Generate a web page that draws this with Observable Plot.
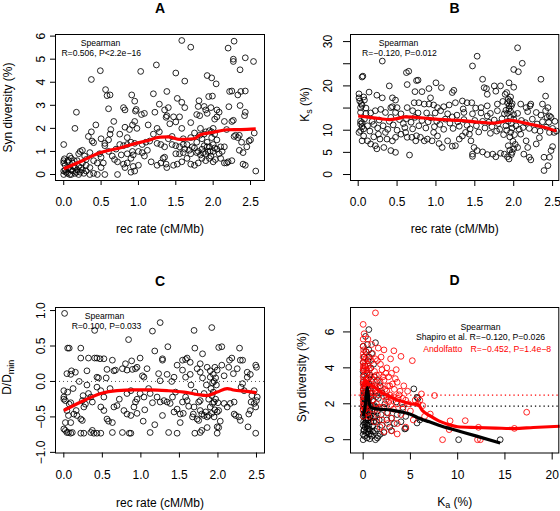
<!DOCTYPE html>
<html><head><meta charset="utf-8">
<script src="https://cdn.jsdelivr.net/npm/d3@7"></script>
<script src="https://cdn.jsdelivr.net/npm/@observablehq/plot@0.6"></script>
<style>
body{margin:0;background:#fff;}
#fig{position:relative;width:560px;height:511px;background:#fff;overflow:hidden;}
.panel{position:absolute;}
</style></head><body><div id="fig"></div>
<script>
// ---------- Panel A: rec rate vs Syn diversity ----------
const aPoints = [
[1.58,5.81],[1.70,5.52],[2.28,5.78],[2.20,5.48],[2.27,5.0],[2.27,4.9],[2.43,5.06],[2.54,4.9],[2.36,4.54],[1.24,4.75],[0.49,4.5],[1.03,4.47],[1.5,4.4],[0.37,4.12],[1.92,4.29],[1.98,4.19],[2.04,3.93],[1.62,4.05],
[0.56,3.68],[0.58,3.42],[0.62,3.45],[0.91,3.45],[1.2,3.5],[1.38,3.6],[1.52,3.3],[1.58,3.13],[1.62,2.9],[0.95,3.18],[1.81,3.2],[1.94,3.38],[1.99,3.4],[2.22,3.6],[2.25,3.62],[2.37,3.6],[2.43,3.62],[2.33,3.45],[2.36,2.99],[2.21,2.94],
[0.6,2.85],[0.8,2.9],[0.82,2.8],[0.96,2.75],[0.97,2.82],[1.04,2.6],[1.08,2.65],[1.22,2.7],[1.35,2.8],[1.38,2.55],[1.37,2.48],[1.4,2.9],[1.47,2.5],[1.55,2.5],[1.42,2.2],[1.5,2.28],[1.58,2.0],[1.28,3.05],[1.8,2.95],[1.88,2.95],[1.9,2.8],[1.92,2.65],[1.97,2.9],[2.05,2.8],[2.08,2.7],[2.05,2.5],[2.02,2.4],[1.82,2.55],[1.78,2.6],[1.7,2.25],[1.83,2.0],[2.15,2.3],[2.18,1.95],[2.42,2.55],[2.43,2.7],[2.27,2.35],
[0.17,2.7],[0.15,2.0],[0.43,2.15],[0.33,1.65],[0.37,1.85],[0.38,1.45],[0.4,1.38],[0.5,1.55],[0.55,1.35],[0.6,1.5],[0.62,1.75],[0.63,1.95],[0.67,2.3],[0.75,1.75],[0.82,2.05],[0.85,1.6],[0.88,1.95],[0.92,2.15],[0.95,2.3],[0.98,2.0],[1.13,2.15],[1.2,1.75],[1.25,2.0],[1.28,1.85],[1.1,1.4],[1.0,1.0],[1.05,0.95],[1.17,0.55],[1.25,0.4],[1.33,0.7],[1.37,0.45],[1.38,0.3],[1.47,0.4],[1.52,0.45],[1.58,0.55],[1.65,0.7],[1.7,0.45],[1.75,0.4],[1.8,0.5],[1.85,0.7],
[0.93,0.35],[0.9,0.1],[0.95,0.15],[1.0,0.4],[0.85,0.5],[0.8,0.45],[0.82,0.3],[0.72,0.0],[0.55,0.0],[0.72,0.55],[0.68,0.65],[0.77,0.85],[0.85,0.9],[0.9,0.7],[0.92,1.0],[0.93,0.85],[0.5,0.3],[0.53,0.5],[0.48,0.9],[0.45,0.0],[0.4,0.05],[0.35,0.0],[0.3,0.15],[0.3,0.4],[0.25,0.5],[0.25,0.2],[0.22,0.1],[0.2,0.0],[0.15,0.05],[0.12,0.15],[0.1,0.0],[0.05,0.05],[0.02,0.2],[0.0,0.0],[0.0,0.6],[0.0,0.5],[0.01,0.68],[0.0,1.3],[0.02,0.4],[0.05,0.55],[0.08,0.8],[0.1,0.2],[0.12,0.5],[0.15,0.3],[0.18,0.2],[0.2,0.9],[0.22,1.0],[0.25,1.05],[0.28,0.8],[0.18,0.6],[0.2,0.35],[0.35,0.95],[0.4,0.6],[0.45,0.5],[0.5,0.75],[0.55,1.25],[0.6,1.0],[0.65,0.8],[0.7,1.1],[0.75,1.3],[0.8,1.25],[0.85,1.3],[0.9,1.4],[0.95,1.35],[1.05,1.3],[1.15,1.45],[1.25,1.35],[1.3,1.3],[1.35,1.2],[1.4,1.55],[1.45,1.65],[1.5,1.25],[1.55,1.2],[1.6,1.3],[1.6,1.55],[1.65,1.3],[1.68,1.05],[1.7,0.9],[1.72,1.2],[1.75,1.15],[1.78,1.4],[1.8,1.0],[1.82,1.7],[1.85,1.55],[1.85,1.1],[1.88,1.25],[1.9,0.9],[1.92,1.4],[1.93,1.0],[1.95,1.9],[1.95,1.2],[1.97,0.8],[1.98,1.6],[2.0,1.0],[2.0,1.3],[2.02,1.75],[2.03,0.65],[2.05,1.1],[2.05,1.5],[2.08,0.9],[2.1,1.2],[2.1,0.7],[2.12,1.0],[2.15,1.2],[2.15,0.5],[2.2,0.55],[2.18,0.5],[2.25,0.6],[2.28,1.65],[2.3,1.7],[2.33,1.6],[2.35,1.7],[2.38,1.4],[2.4,0.95],[2.4,0.45],[2.43,0.4],[2.45,1.2],[2.48,1.45],[2.5,1.5],[2.55,1.8],[2.57,0.15],[2.35,1.05],[2.25,2.3],[1.9,0.6],[1.95,0.7],[2.0,0.55],[1.6,0.95],[1.55,0.9],[1.45,1.3],[1.5,0.9],[1.35,0.75],[1.3,0.5],[1.12,1.05],[1.08,0.8],
[0.03,0.1],[0.07,0.3],[0.08,0.0],[0.13,0.35],[0.17,0.1],[0.23,0.3],[0.27,0.05],[0.06,0.62],[0.1,0.7],[0.14,0.6],[0.3,0.65],[0.35,0.3],[0.05,0.25],[0.0,0.15],
[1.88,1.75],[1.9,1.85],[1.98,1.85],[2.0,2.0],[1.92,1.2],[1.96,1.0],[2.02,1.15],[1.75,1.8],[1.78,0.95],[1.83,0.85],[1.87,0.95],[1.7,1.6],[1.62,1.1]
];
const aCurve = [[0,0.25],[0.25,0.6],[0.49,0.95],[0.75,1.15],[0.94,1.33],[1.1,1.45],[1.29,1.62],[1.4,1.63],[1.56,1.52],[1.74,1.55],[1.83,1.72],[2.0,1.83],[2.19,1.94],[2.37,1.95],[2.57,1.98]];
const aXTicks = [0,0.5,1,1.5,2,2.5];
const aYTicks = [0,1,2,3,4,5,6];

// ---------- Panel B: rec rate vs Ks ----------
const bPoints = [
[0.31,25.6],[2.05,28.6],[1.53,26.7],[1.47,24.5],[2.11,25.1],[2.0,23.7],[2.06,23.2],[0.65,23.3],[0.62,23.0],[0.05,22.0],[0.06,22.2],[1.6,21.5],[2.35,21.5],[0.75,21.2],[0.77,21.3],[1.0,20.7],[1.94,20.7],[1.75,20.0],[1.83,20.0],[0.63,20.3],[0.4,20.0],[0.91,19.4],[1.07,19.6],[1.23,19.0],[1.62,19.6],[1.65,19.4],[2.0,19.7],[0.73,18.7],[0.82,18.7],[1.21,18.5],[1.77,18.8],[0.14,18.6],[0.24,17.9],[0.01,18.2],[1.66,18.1],[1.89,18.1],[2.41,17.7],[0.31,17.3],[0.44,17.3],[0.48,16.8],[0.93,17.3],
[0.5,15.1],[0.42,15.1],[0.44,15.3],[0.72,16.2],[0.78,16.2],[0.85,15.9],[0.91,15.9],[0.97,15.7],[1.02,15.1],[1.1,15.3],[1.17,15.7],[1.25,16.2],[1.34,16.6],[1.4,16.2],[1.46,16.2],[1.51,15.0],[1.35,14.8],[1.58,15.1],[1.66,15.5],[1.79,15.9],[1.86,16.5],[1.92,16.2],[1.95,16.6],[1.94,15.5],[1.97,15.5],[1.93,17.0],[2.22,15.9],[2.21,15.5],[2.09,15.9],[2.16,15.1],[2.37,15.9],[2.44,15.1],[2.41,14.4],[2.46,13.2],[2.48,12.9],[2.43,12.9],[2.35,13.4],[2.29,14.0],[2.18,14.2],[2.05,13.8],[2.0,13.5],[1.96,12.9],[1.88,13.7],[1.79,14.4],[1.7,13.8],[1.66,13.2],[1.58,13.9],[1.47,13.7],[1.36,14.0],[1.27,13.4],[1.21,13.0],[1.15,13.7],[1.06,14.4],[0.99,13.9],[0.88,13.9],[0.77,13.9],[0.7,14.4],[0.63,15.1],[0.55,13.7],[0.48,14.0],[0.42,12.9],[0.35,14.0],[0.29,14.7],[0.22,14.4],[0.16,13.9],[0.1,13.8],[0.03,15.1],[0.02,16.6],[0.01,17.3],[0.03,14.0],[0.04,16.0],[0.08,16.8],[0.07,17.5],[0.05,15.6],[0.1,15.0],
[0.03,12.0],[0.05,11.7],[0.03,11.4],[0.05,10.8],[0.03,9.9],[0.01,9.5],[0.07,8.7],[0.07,10.3],[0.05,7.6],[0.12,7.6],[0.16,6.9],[0.22,6.5],[0.24,5.8],[0.28,8.0],[0.33,6.1],[0.2,8.5],[0.26,9.1],[0.35,9.5],[0.37,8.0],[0.42,5.4],[0.48,5.0],[0.44,7.6],[0.48,8.4],[0.55,9.1],[0.61,9.5],[0.63,8.4],[0.66,4.4],[0.69,8.4],[0.74,7.6],[0.75,8.75],[0.8,8.4],[0.85,7.6],[0.89,8.0],[0.95,7.6],[0.97,9.5],[1.02,8.7],[1.04,7.0],[1.08,6.1],[1.15,7.6],[1.21,6.4],[1.25,6.5],[1.3,8.0],[1.34,8.7],[1.38,9.5],[1.43,9.1],[1.45,7.6],[1.49,6.1],[1.47,4.6],[1.47,4.1],[1.53,5.4],[1.6,5.1],[1.66,4.5],[1.73,4.6],[1.77,4.0],[1.83,4.8],[1.88,4.6],[1.92,4.0],[1.94,3.5],[1.98,5.0],[2.0,5.8],[2.05,6.1],[2.09,9.1],[2.16,7.6],[2.18,6.1],[2.13,4.6],[2.2,3.9],[2.22,3.3],[2.29,6.9],[2.33,8.3],[2.39,3.9],[2.39,0.9],[2.44,2.0],[2.46,3.9],[2.48,5.4],[2.5,6.3],[2.52,9.5],[2.46,9.5],[2.55,9.8],
[0.08,12.5],[0.12,11.0],[0.15,9.8],[0.18,12.0],[0.2,11.3],[0.25,10.5],[0.27,12.3],[0.32,11.0],[0.38,10.2],[0.4,12.0],[0.45,11.2],[0.5,10.0],[0.53,12.4],[0.58,11.5],[0.6,10.6],[0.62,12.6],[0.68,11.8],[0.7,10.3],[0.73,12.9],[0.78,11.0],[0.82,12.2],[0.87,10.5],[0.9,11.9],[0.93,12.8],[0.98,10.8],[1.01,12.0],[1.05,11.3],[1.1,10.2],[1.12,12.5],[1.18,11.6],[1.22,10.4],[1.28,11.9],[1.3,10.9],[1.36,12.4],[1.4,11.1],[1.44,10.3],[1.5,12.2],[1.52,11.0],[1.55,9.6],[1.6,12.0],[1.63,10.5],[1.68,11.8],[1.7,9.3],[1.72,10.8],[1.75,12.3],[1.78,9.8],[1.8,11.5],[1.82,10.2],[1.85,12.6],[1.87,9.0],[1.9,11.0],[1.91,10.0],[1.93,12.0],[1.95,8.5],[1.96,9.5],[1.97,11.5],[1.98,10.5],[1.99,7.5],[2.0,12.5],[2.01,9.0],[2.02,6.8],[2.03,11.0],[2.07,10.2],[2.1,12.2],[2.12,10.6],[2.15,11.7],[2.2,10.4],[2.24,12.5],[2.27,10.0],[2.3,11.4],[2.34,9.8],[2.37,11.9],[2.42,10.7],[2.45,11.8],[2.5,10.4],[2.53,12.0],
[1.9,14.5],[1.92,13.8],[1.94,14.8],[1.96,14.2],[1.98,16.0],[1.96,17.5],[1.91,18.5],[1.95,5.5],[1.97,4.5],[1.93,6.5]
];
const bCurve = [[0,13.2],[0.2,12.8],[0.4,12.4],[0.5,12.6],[0.6,13.0],[0.75,12.9],[1.0,12.5],[1.3,12.2],[1.5,11.9],[1.75,11.6],[1.95,12.2],[2.1,11.8],[2.2,11.4],[2.4,10.6],[2.55,9.8]];
const bXTicks = [0,0.5,1,1.5,2,2.5];
const bYTicks = [0,5,10,15,20,25,30];
const bYLabels = [0,5,10,20,30];

// ---------- Panel C: rec rate vs D/Dmin ----------
const cPoints = [
[0.01,0.96],[0.40,0.72],[0.84,0.59],[1.15,0.71],[1.25,0.83],[1.69,0.72],[1.92,0.76],[0.05,0.47],[0.07,0.47],[0.22,0.47],[0.22,0.33],[0.32,0.33],[0.40,0.33],[0.43,0.33],[0.47,0.32],[0.52,0.32],[1.18,0.43],[1.35,0.49],[1.28,0.32],[1.28,0.30],[1.7,0.47],[2.01,0.48],[2.05,0.49],[2.28,0.47],[0.63,0.3],[0.88,0.29],[0.99,0.33],[1.54,0.3],[1.58,0.31],[1.6,0.33],[1.64,0.27],[1.77,0.25],[2.15,0.3],[2.18,0.33],[2.29,0.3],[2.32,0.3],[2.49,0.23],[2.5,0.2],[1.8,0.39],[2.38,0.13],[2.42,0.1],
[0.04,0.11],[0.09,0.1],[0.1,0.15],[0.15,0.13],[0.3,0.15],[0.43,0.06],[0.45,0.05],[0.56,0.17],[0.65,0.15],[0.67,0.16],[0.76,0.18],[0.8,0.25],[0.82,0.16],[0.89,0.17],[0.93,0.18],[0.95,0.2],[1.08,0.18],[1.02,0.08],[1.04,0.06],[1.23,0.11],[1.25,0.01],[1.34,0.1],[1.43,0.06],[1.47,0.23],[1.54,0.16],[1.58,0.06],[1.64,0.1],[1.73,0.18],[1.77,0.13],[1.86,0.2],[1.9,0.06],[1.94,0.1],[1.99,0.16],[2.05,0.23],[2.08,0.08],[2.14,0.2],[2.2,0.11],[2.25,0.18],[2.38,0.06],[1.95,0.0],[1.97,0.05],[1.93,-0.02],
[0.0,-0.22],[0.0,-0.13],[0.0,-0.25],[0.02,-0.27],[0.07,-0.32],[0.09,-0.3],[0.04,-0.41],[0.06,-0.48],[0.09,-0.58],[0.02,-0.58],[0.02,-0.69],[0.04,-0.72],[0.06,-0.72],[0.09,-0.73],[0.11,-0.72],[0.0,-0.67],[0.22,-0.73],[0.26,-0.73],[0.35,-0.72],[0.39,-0.73],[0.43,-0.73],[0.48,-0.73],[0.37,-0.69],[0.63,-0.72],[0.76,-0.72],[0.85,-0.73],[0.87,-0.73],[1.12,-0.72],[1.36,-0.72],[1.47,-0.73],[1.7,-0.73],[1.77,-0.72],[1.79,-0.69],[1.86,-0.65],[1.99,-0.73],[1.99,-0.64],[2.01,-0.65],[2.49,-0.73],[2.39,-0.64],
[0.16,-0.41],[0.13,-0.46],[0.17,-0.48],[0.22,-0.53],[0.24,-0.55],[0.26,-0.36],[0.28,-0.32],[0.24,-0.27],[0.32,-0.17],[0.35,-0.22],[0.37,-0.29],[0.43,-0.08],[0.48,-0.13],[0.52,-0.22],[0.48,-0.36],[0.52,-0.41],[0.56,-0.53],[0.58,-0.56],[0.63,-0.58],[0.65,-0.36],[0.69,-0.34],[0.78,-0.41],[0.82,-0.46],[0.87,-0.48],[0.91,-0.36],[0.93,-0.29],[0.95,-0.25],[0.82,-0.17],[0.87,-0.13],[0.99,-0.17],[1.04,-0.22],[1.1,-0.1],[1.12,-0.17],[1.03,-0.56],[1.18,-0.61],[1.28,-0.48],[1.21,-0.22],[1.25,-0.29],[1.3,-0.27],[1.34,-0.29],[1.38,-0.31],[1.41,-0.22],[1.43,-0.43],[1.47,-0.39],[1.51,-0.46],[1.51,-0.58],[1.54,-0.29],[1.58,-0.22],[1.6,-0.27],[1.67,-0.5],[1.68,-0.46],[1.69,-0.36],[1.73,-0.53],[1.75,-0.55],[1.77,-0.41],[1.79,-0.46],[1.82,-0.48],[1.84,-0.43],[1.86,-0.5],[1.88,-0.48],[1.75,-0.29],[1.77,-0.27],[1.82,-0.17],[1.9,-0.36],[1.93,-0.31],[1.95,-0.29],[1.97,-0.25],[1.99,-0.43],[2.01,-0.41],[2.03,-0.56],[2.08,-0.31],[2.12,-0.36],[2.16,-0.31],[2.21,-0.29],[2.27,-0.5],[2.29,-0.55],[2.21,-0.46],[2.23,-0.48],[2.4,-0.46],[2.42,-0.41],[2.47,-0.31],[2.49,-0.36],[2.5,-0.27],[2.51,-0.22],[2.44,-0.2],[2.47,-0.13],[2.43,-0.29],[2.34,-0.13],[2.3,-0.08],[2.32,-0.03],
[1.91,-0.1],[1.92,-0.2],[1.94,-0.15],[1.96,-0.4],[1.98,-0.05],[1.95,-0.5],[1.92,-0.45],[1.9,0.15],[1.96,0.2],[2.0,-0.3],[1.88,-0.25],[1.85,-0.05],[1.8,0.05],[1.7,-0.15],[1.65,-0.05],[1.62,-0.35],[1.55,-0.45],[1.45,-0.15],[1.4,0.0],[1.15,-0.3],[1.05,-0.4],[0.95,-0.45],[0.72,-0.25],[0.6,-0.1],[0.55,0.05],[0.3,-0.05],[0.2,0.0],[0.12,-0.1],[0.25,-0.2],[0.05,-0.15]
];
const cCurve = [[0,-0.41],[0.22,-0.29],[0.48,-0.17],[0.69,-0.13],[0.91,-0.12],[1.12,-0.12],[1.34,-0.13],[1.56,-0.15],[1.77,-0.19],[1.85,-0.2],[1.99,-0.15],[2.12,-0.1],[2.2,-0.12],[2.38,-0.14],[2.5,-0.16]];
const cXTicks = [0,0.5,1,1.5,2,2.5];
const cYTicks = [-1,-0.5,0,0.5,1];
const cRefLine = [0];

// ---------- Panel D: Ka vs Syn diversity, two datasets ----------
const dShapiro = [
[0.6,6.13],[0.25,5.75],[0.0,5.2],[1.3,5.4],[0.6,5.0],[0.9,4.8],[0.3,4.9],[0.1,4.6],[0.5,4.4],[1.1,4.2],[0.8,4.0],[0.2,4.1],[0.0,3.8],[0.4,3.7],[0.7,3.6],[1.2,3.5],[1.5,3.3],[0.3,3.4],[0.0,3.2],[0.6,3.1],[0.9,3.0],[1.8,3.0],[0.2,2.9],[0.5,2.8],[0.1,2.6],[0.8,2.6],[1.3,2.7],[2.0,2.6],[0.35,2.5],[0.0,2.4],[0.6,2.3],[1.0,2.2],[1.6,2.3],[0.2,2.2],[0.45,2.0],[0.05,2.0],[0.7,1.9],[1.2,1.9],[2.3,2.0],[0.3,1.8],[0.0,1.7],[0.55,1.6],[0.9,1.6],[1.5,1.6],[0.15,1.5],[0.4,1.4],[0.0,1.3],[0.7,1.3],[1.1,1.3],[1.9,1.4],[0.25,1.2],[0.5,1.1],[0.05,1.0],[0.8,1.0],[1.4,1.0],[2.5,1.1],[0.35,0.9],[0.0,0.8],[0.6,0.8],[1.0,0.75],[0.2,0.7],[0.45,0.6],[0.05,0.5],[0.75,0.5],[1.2,0.5],[0.3,0.4],[0.0,0.3],[0.6,0.3],[0.9,0.2],[0.15,0.2],[0.4,0.1],[0.0,0.0],[0.7,0.05],[1.3,0.0],[1.6,0.2],[1.8,0.3],[1.5,0.1],
[2.2,1.8],[2.6,1.5],[3.0,1.2],[3.3,0.9],[2.8,0.7],[3.6,1.4],[4.0,1.0],[4.2,1.8],[4.4,0.6],[4.5,1.3],[5.36,2.83],[5.7,2.36],[5.8,2.3],[4.5,0.63],[5.7,0.93],[6.0,1.1],[10.1,0.0],[14.5,0.0],[3.5,2.1],[2.5,2.4],[3.0,0.5],[2.0,0.8],[2.2,0.4],[1.7,1.1],[1.2,1.6],[0.85,2.4],[0.55,3.4],[0.65,4.6],[0.45,5.3],[0.15,3.0],[0.05,3.6],[0.02,4.3],[0.02,2.8],[0.3,2.2],[0.5,1.2],[0.65,0.6],[0.25,0.95],[0.1,0.55],[0.85,1.2],[1.0,1.9],[1.4,2.4],
[0.1,1.9],[0.2,1.6],[0.3,1.1],[0.4,0.8],[0.5,0.45],[0.15,0.9],[0.35,1.55],[0.45,1.75],[0.55,2.15],[0.1,2.3],[0.25,2.6],[0.4,3.1],[0.05,1.4],[0.7,1.6],[0.8,0.3],[1.0,0.45],[1.1,1.0],[1.25,1.25],[1.35,1.8],[1.45,0.6]
];
const dAndolfatto = [
[1.3,7.06],[0.0,6.42],[0.1,5.9],[0.5,5.6],[0.0,5.6],[0.9,5.3],[0.0,5.2],[1.6,5.1],[2.2,5.0],[3.25,4.95],[0.3,4.9],[1.0,4.8],[0.0,4.6],[2.9,4.5],[4.0,4.64],[5.2,4.4],[0.6,4.5],[1.5,4.4],[0.0,4.3],[1.83,4.2],[0.2,4.1],[0.8,4.0],[2.5,4.0],[3.5,3.9],[2.0,3.9],[0.0,3.9],[1.2,3.8],[0.4,3.7],[3.0,3.7],[2.7,3.5],[1.7,3.6],[0.0,3.5],[0.9,3.4],[2.2,3.3],[3.6,3.2],[0.3,3.3],[1.4,3.2],[0.0,3.1],[2.8,3.0],[4.3,3.0],[0.6,3.0],[1.9,2.9],[0.1,2.8],[3.3,2.8],[1.1,2.8],[2.5,2.7],[4.7,2.7],[0.0,2.6],[0.5,2.6],[3.8,2.5],[1.6,2.5],[6.17,2.55],[7.55,2.46],[2.2,2.4],[0.2,2.4],[3.0,2.3],[4.2,2.3],[5.5,2.2],[1.0,2.2],[0.0,2.2],[6.0,2.2],[2.7,2.1],[1.4,2.0],[0.4,2.0],[3.6,2.0],[4.8,2.0],[0.0,1.9],[6.3,1.9],[2.0,1.8],[1.0,1.7],[3.2,1.7],[0.2,1.7],[5.0,1.6],[0.0,1.6],[2.5,1.5],[1.5,1.4],[4.0,1.4],[7.1,1.43],[0.6,1.3],[6.5,1.3],[3.0,1.2],[2.0,1.1],[5.3,1.1],[1.2,1.0],[3.6,0.9],[2.6,0.9],[4.5,0.7],[1.8,0.7],[3.0,0.5],[3.6,0.32],[2.2,0.45],[9.2,1.05],[10.8,1.06],[12.2,0.69],[8.4,0.0],[12.1,0.0],[12.4,0.0],[16.0,0.63],[17.3,1.53],[9.1,0.56],
[0.05,5.0],[0.05,4.0],[0.05,3.0],[0.08,2.4],[0.1,1.8],[0.15,3.6],[0.15,4.4],[0.3,2.9],[0.35,3.9],[0.7,3.5],[0.7,2.4],[0.8,1.9],[1.1,3.3],[1.3,2.6],[1.8,3.2],[2.4,2.2],[2.6,3.0],[3.2,2.4],[3.4,3.4],[3.9,2.7],[4.5,2.2],[5.8,2.0],[1.3,4.5],[1.9,4.6],[2.4,3.7],[0.5,1.5],[1.7,1.8],[2.9,1.9],[4.2,1.7],
[0.02,4.8],[0.02,4.1],[0.02,3.3],[0.02,2.8],[0.05,2.1],[0.05,1.3],[0.1,3.9],[0.2,3.1],[0.25,4.5],[0.45,3.4],[0.5,4.1],[0.55,2.2],[0.65,3.9],[0.75,2.9],[0.85,4.4],[0.95,2.6],[1.2,3.0],[1.4,3.6],[1.6,2.9],[2.1,3.5],[2.3,2.8],[2.8,2.5],[3.1,3.1],[3.7,2.3],[4.1,2.0]
];
const dShapiroCurve = [[0,1.3],[0.2,1.8],[0.35,2.6],[0.45,2.9],[0.6,2.2],[0.8,1.8],[1.5,1.72],[3,1.65],[4,1.55],[5,1.42],[6.1,1.15],[7,1.0],[8,0.8],[10,0.5],[12,0.2],[14.5,-0.18]];
const dAndolfattoCurve = [[0,3.0],[0.3,3.3],[0.6,3.1],[1,3.0],[2,2.6],[3,2.35],[4,2.15],[5,2.0],[5.8,1.95],[6.3,1.6],[7,1.35],[8,1.05],[9,0.85],[10,0.72],[12,0.68],[14,0.65],[16,0.62],[18,0.68],[20.8,0.75]];
const dShapiroMean = [1.87];
const dAndolfattoMean = [2.48];
const dXTicks = [0,5,10,15,20];
const dYTicks = [0,2,4,6];

// ---------- drawing ----------
const FONT = '"Liberation Sans", Arial, Helvetica, sans-serif';
const RED = "#ff0000";
const fig = document.getElementById("fig");

function txt(s, opts) { return Plot.text([s], {text: d => d, fontSize: 12, fill: "black", textAnchor: "middle", lineAnchor: "middle", ...opts}); }
function dots(data, stroke) { return Plot.dot(data, {x: d => d[0], y: d => d[1], r: 2.9, stroke, strokeWidth: 0.85, fill: "none"}); }
function curve(data, stroke) { return Plot.line(data, {x: d => d[0], y: d => d[1], stroke, strokeWidth: 3.2, strokeLinejoin: "round", strokeLinecap: "butt", curve: "monotone-x"}); }

function addPanel(left, top, opts) {
  const svg = Plot.plot({
    width: opts.width, height: opts.height,
    marginLeft: opts.ml, marginRight: opts.mr, marginTop: opts.mt, marginBottom: opts.mb,
    x: {domain: opts.xDomain}, y: {domain: opts.yDomain},
    style: {fontFamily: FONT, fontSize: "12px", color: "black", background: "white", overflow: "visible"},
    marks: opts.marks
  });
  const div = document.createElement("div");
  div.className = "panel";
  div.style.left = left + "px"; div.style.top = top + "px";
  div.appendChild(svg);
  fig.appendChild(div);
  // subscripted labels
  d3.select(svg).selectAll("text").each(function() {
    const sub = opts.subs && opts.subs[this.textContent];
    if (!sub) return;
    const t = d3.select(this); t.text("");
    sub.forEach(([s, isSub], i) => {
      const ts = t.append("tspan").text(s);
      if (isSub) ts.attr("font-size", "9px").attr("dy", "2.5");
      else if (i > 0 && sub[i - 1][1]) ts.attr("dy", "-2.5");
    });
  });
}

function axes(xt, yt, fmtX, fmtY, xs, xp, ys, yp) {
  return [
    Plot.axisX(xt, {tickSize: xs, tickPadding: xp, tickFormat: fmtX, label: null, fontSize: 12, stroke: "black"}),
    Plot.axisY(yt, {tickSize: ys, tickPadding: yp, tickFormat: fmtY, tickRotate: -90, label: null, fontSize: 12, stroke: "black"})
  ];
}

const f1 = d3.format(".1f");

// Panel A
addPanel(0, 0, {
  width: 280, height: 250, ml: 55, mr: 16, mt: 34, mb: 70,
  xDomain: [-0.11, 2.687], yDomain: [-0.26, 6.07],
  marks: [
    dots(aPoints, "black"),
    curve(aCurve, RED),
    Plot.frame({stroke: "black"}),
    ...axes(aXTicks, aYTicks, f1, d3.format("d"), 5, 12.4, 5, 5.7),
    txt("A", {frameAnchor: "top", dy: -26, fontWeight: "bold", fontSize: 14}),
    txt("Spearman", {frameAnchor: "top-left", dx: 45, dy: 8.7, fontSize: 8.6}),
    txt("R=0.506, P<2.2e\u221216", {frameAnchor: "top-left", dx: 45.7, dy: 18.3, fontSize: 8.6}),
    txt("rec rate (cM/Mb)", {frameAnchor: "bottom", dy: 49}),
    txt("Syn diversity (%)", {frameAnchor: "left", dx: -47.5, rotate: -90})
  ]
});

// Panel B
addPanel(280, 0, {
  width: 280, height: 250, ml: 70, mr: 1.7, mt: 34, mb: 70,
  xDomain: [-0.099, 2.58], yDomain: [-1.35, 31.6],
  subs: {"Ks (%)": [["K", false], ["s", true], [" (%)", false]]},
  marks: [
    dots(bPoints, "black"),
    curve(bCurve, RED),
    Plot.frame({stroke: "black"}),
    ...axes(bXTicks, bYTicks, f1, d => bYLabels.includes(d) ? String(d) : "", 6, 11.4, 7, 11.7),
    txt("B", {frameAnchor: "top", dy: -26, fontWeight: "bold", fontSize: 14}),
    txt("Spearman", {frameAnchor: "top-left", dx: 48, dy: 8.7, fontSize: 8.6}),
    txt("R=\u22120.120, P=0.012", {frameAnchor: "top-left", dx: 49, dy: 18.5, fontSize: 8.6}),
    txt("rec rate (cM/Mb)", {frameAnchor: "bottom", dy: 49}),
    txt("Ks (%)", {frameAnchor: "left", dx: -45, dy: -3, rotate: -90})
  ]
});

// Panel C
addPanel(0, 250, {
  width: 280, height: 261, ml: 55, mr: 16, mt: 57, mb: 58.5,
  xDomain: [-0.108, 2.604], yDomain: [-1.009, 1.043],
  subs: {"D/Dmin": [["D/D", false], ["min", true]]},
  marks: [
    Plot.ruleY(cRefLine, {stroke: "#555", strokeWidth: 1, strokeDasharray: "1,3"}),
    dots(cPoints, "black"),
    curve(cCurve, RED),
    Plot.frame({stroke: "black"}),
    ...axes(cXTicks, cYTicks, f1, f1, 5, 12.4, 5, 5.7),
    txt("C", {frameAnchor: "top", dy: -26.3, fontWeight: "bold", fontSize: 14}),
    txt("Spearman", {frameAnchor: "top-left", dx: 49, dy: 8.7, fontSize: 8.6}),
    txt("R=0.100, P=0.033", {frameAnchor: "top-left", dx: 51, dy: 18.7, fontSize: 8.6}),
    txt("rec rate (cM/Mb)", {frameAnchor: "bottom", dy: 50}),
    txt("D/Dmin", {frameAnchor: "left", dx: -48, dy: -3, rotate: -90})
  ]
});

// Panel D
addPanel(280, 250, {
  width: 280, height: 261, ml: 70, mr: 1.7, mt: 57, mb: 58.5,
  xDomain: [-1.34, 20.7], yDomain: [-0.74, 7.36],
  subs: {"Ka (%)": [["K", false], ["a", true], [" (%)", false]]},
  marks: [
    Plot.ruleY(dAndolfattoMean, {stroke: RED, strokeWidth: 1.3, strokeDasharray: "1.3,3"}),
    Plot.ruleY(dShapiroMean, {stroke: "black", strokeWidth: 1.3, strokeDasharray: "1.3,3"}),
    dots(dShapiro, "black"),
    dots(dAndolfatto, RED),
    curve(dAndolfattoCurve, RED),
    curve(dShapiroCurve, "black"),
    Plot.frame({stroke: "black"}),
    ...axes(dXTicks, dYTicks, d3.format("d"), d3.format("d"), 7, 10.4, 7, 9.7),
    txt("D", {frameAnchor: "top", dy: -27, fontWeight: "bold", fontSize: 14}),
    txt("Spearman", {frameAnchor: "top-right", dx: -78.3, dy: 19.4, fontSize: 8.7}),
    txt("Shapiro et al. R=\u22120.120, P=0.026", {frameAnchor: "top-right", dx: -78.3, dy: 30, fontSize: 8.7}),
    txt("Andolfatto", {frameAnchor: "top-left", dx: 72.7, dy: 42, fontSize: 8.7, textAnchor: "start", fill: RED}),
    txt("R=\u22120.452, P=1.4e\u22128", {frameAnchor: "top-left", dx: 120, dy: 42, fontSize: 8.7, textAnchor: "start", fill: RED}),
    txt("Ka (%)", {frameAnchor: "bottom", dy: 49}),
    txt("Syn diversity (%)", {frameAnchor: "left", dx: -48.3, dy: -3, rotate: -90})
  ]
});
</script></body></html>
